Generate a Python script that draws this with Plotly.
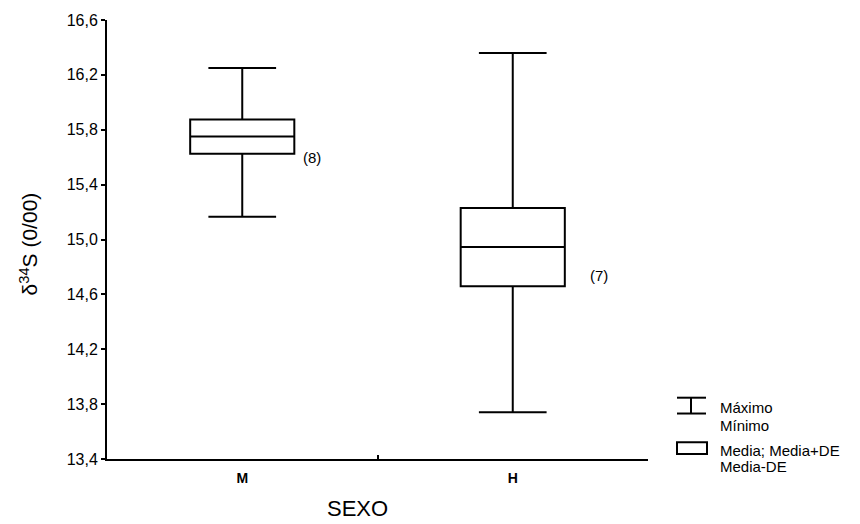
import plotly.graph_objects as go

# Isotope summary per sex: mean, standard deviation, min and max of delta-34S
sexo = ["M", "H"]
n = [8, 7]
media = [15.75, 14.945]
de = [0.125, 0.285]
minimo = [15.165, 13.74]
maximo = [16.25, 16.36]

# plot area in pixels (for placing the hand-drawn key outside the axes)
L, R, T, B = 107, 648, 15, 459
W, H = 860, 524


def px(x):
    return (x - L) / (R - L)


def py(y):
    return (B - y) / (B - T)


fig = go.Figure()
for i, s in enumerate(sexo):
    fig.add_trace(go.Box(
        x=[s],
        q1=[media[i] - de[i]],
        median=[media[i]],
        q3=[media[i] + de[i]],
        lowerfence=[minimo[i]],
        upperfence=[maximo[i]],
        width=0.385,
        whiskerwidth=0.65,
        fillcolor="white",
        line=dict(color="black", width=2),
        boxpoints=False,
        showlegend=False,
        hoverinfo="skip",
    ))

font = "Liberation Sans, Arial, sans-serif"
annotations = []

# sample sizes beside each box
label_y = [15.60, 14.74]
label_shift = [70, 86]
for i, s in enumerate(sexo):
    annotations.append(dict(
        x=s, y=label_y[i], xref="x", yref="y", text=f"({n[i]})",
        showarrow=False, xshift=label_shift[i],
        xanchor="center", yanchor="middle",
        font=dict(family=font, size=15, color="black"),
    ))

# axis titles
annotations.append(dict(
    x=px(29), y=py(242), xref="paper", yref="paper",
    xanchor="center", yanchor="middle",
    text="δ<sup>34</sup>S (0/00)", textangle=-90, showarrow=False,
    font=dict(family=font, size=21, color="black"),
))
annotations.append(dict(
    x=px(357), y=py(509), xref="paper", yref="paper",
    xanchor="center", yanchor="middle",
    text="SEXO", showarrow=False,
    font=dict(family=font, size=22, color="black"),
))

# key text
key_text = [("Máximo", 407), ("Mínimo", 425), ("Media; Media+DE", 450), ("Media-DE", 467)]
for t, yy in key_text:
    annotations.append(dict(
        x=px(718), y=py(yy), xref="paper", yref="paper",
        xanchor="left", yanchor="middle",
        text=t, showarrow=False,
        font=dict(family=font, size=15, color="black"),
    ))

line = dict(color="black", width=2)
shapes = [
    # whisker symbol
    dict(type="line", xref="paper", yref="paper", x0=px(677), x1=px(706), y0=py(397), y1=py(397), line=line),
    dict(type="line", xref="paper", yref="paper", x0=px(691), x1=px(691), y0=py(397), y1=py(413), line=line),
    dict(type="line", xref="paper", yref="paper", x0=px(677), x1=px(706), y0=py(413), y1=py(413), line=line),
    # box symbol
    dict(type="rect", xref="paper", yref="paper", x0=px(677), x1=px(707), y0=py(454), y1=py(442),
         line=line, fillcolor="white"),
]

fig.update_layout(
    width=W, height=H,
    margin=dict(l=L, r=W - R, t=T, b=H - B),
    paper_bgcolor="white", plot_bgcolor="white",
    separators=",.",
    font=dict(family=font, color="black"),
    xaxis=dict(
        type="category", categoryorder="array", categoryarray=sexo,
        range=[-0.5, 1.5],
        showline=True, linecolor="black", linewidth=2,
        ticks="inside", tickson="boundaries", ticklen=4, tickcolor="black", tickwidth=2,
        ticklabelstandoff=5,
        tickfont=dict(family=font, size=14, color="black", weight="bold"),
        showgrid=False, zeroline=False,
    ),
    yaxis=dict(
        range=[13.4, 16.6], tick0=13.4, dtick=0.4, tickformat=".1f",
        showline=True, linecolor="black", linewidth=2,
        ticks="outside", ticklen=4, tickcolor="black", tickwidth=2,
        tickfont=dict(family=font, size=16, color="black"),
        showgrid=False, zeroline=False,
    ),
    annotations=annotations,
    shapes=shapes,
)

fig.write_html("out.html")
